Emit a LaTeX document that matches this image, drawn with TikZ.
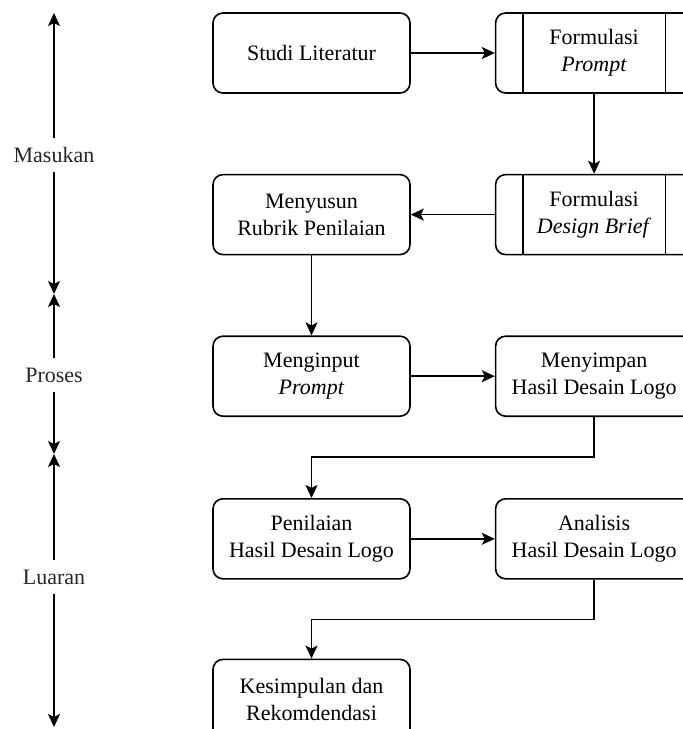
\documentclass[tikz,border=0pt]{standalone}
\usepackage{fontspec}
\setmainfont{Liberation Serif}
\newfontfamily\diagfont{Liberation Serif}
\usepackage{tikz}
\usetikzlibrary{arrows.meta,positioning}

\begin{document}
\begin{tikzpicture}[
box/.style={draw,rounded corners=10pt,line width=1.6pt,align=center,minimum height=80pt,minimum width=197pt,inner sep=2pt,font=\diagfont\fontsize{22}{27}\selectfont},
procbox/.style={box},
lbl/.style={inner sep=9pt,font=\diagfont\fontsize{22}{27}\selectfont,text=black!85},
arrow/.style={-{Stealth[length=13pt,width=12pt,inset=3pt]},line width=1.6pt}
]
\useasboundingbox (0,0) rectangle (683pt,-729pt);
\clip (0,0) rectangle (683pt,-729pt);

% kolom kiri dan kanan
\node[box] (studi) at (311.5pt,-53pt) {Studi Literatur};
\node[procbox,right=84pt of studi] (prompt) {Formulasi\\\textit{Prompt}};
\node[procbox,below=80pt of prompt] (brief) {Formulasi\\\textit{Design Brief}};
\node[box,below=80pt of studi] (rubrik) {Menyusun\\Rubrik Penilaian};
\node[box,below=80pt of rubrik] (input) {Menginput\\\textit{Prompt}};
\node[box,right=84pt of input] (simpan) {Menyimpan\\Hasil Desain Logo};
\node[box,below=81pt of input] (nilai) {Penilaian\\Hasil Desain Logo};
\node[box,right=84pt of nilai] (analisis) {Analisis\\Hasil Desain Logo};
\node[box,below=79pt of nilai] (simpul) {Kesimpulan dan\\Rekomdendasi};

% garis samping proses
\foreach \n in {prompt,brief}{
  \draw[line width=1.6pt] ([xshift=28pt]\n.north west) -- ([xshift=28pt]\n.south west);
  \draw[line width=1.6pt] ([xshift=-28pt]\n.north east) -- ([xshift=-28pt]\n.south east);
}

\draw[arrow] (studi) -- (prompt);
\draw[arrow] (prompt) -- (brief);
\draw[arrow] (brief) -- (rubrik);
\draw[arrow] (rubrik) -- (input);
\draw[arrow] (input) -- (simpan);
\draw[arrow] (simpan.south) -- ++(0,-40pt) -| (nilai.north);
\draw[arrow] (nilai) -- (analisis);
\draw[arrow] (analisis.south) -- ++(0,-40pt) -| (simpul.north);

% tahapan
\node[lbl] (masukan) at (54pt,-155pt) {Masukan};
\node[lbl] (proses) at (54pt,-375pt) {Proses};
\node[lbl] (luaran) at (54pt,-577pt) {Luaran};
\coordinate (t0) at (54pt,-13pt);
\coordinate (t1) at (54pt,-294pt);
\coordinate (t2) at (54pt,-454pt);
\coordinate (t3) at (54pt,-727pt);
\draw[arrow] (masukan) -- (t0);
\draw[arrow] (masukan) -- (t1);
\draw[arrow] (proses) -- (t1);
\draw[arrow] (proses) -- (t2);
\draw[arrow] (luaran) -- (t2);
\draw[arrow] (luaran) -- (t3);
\end{tikzpicture}
\end{document}
